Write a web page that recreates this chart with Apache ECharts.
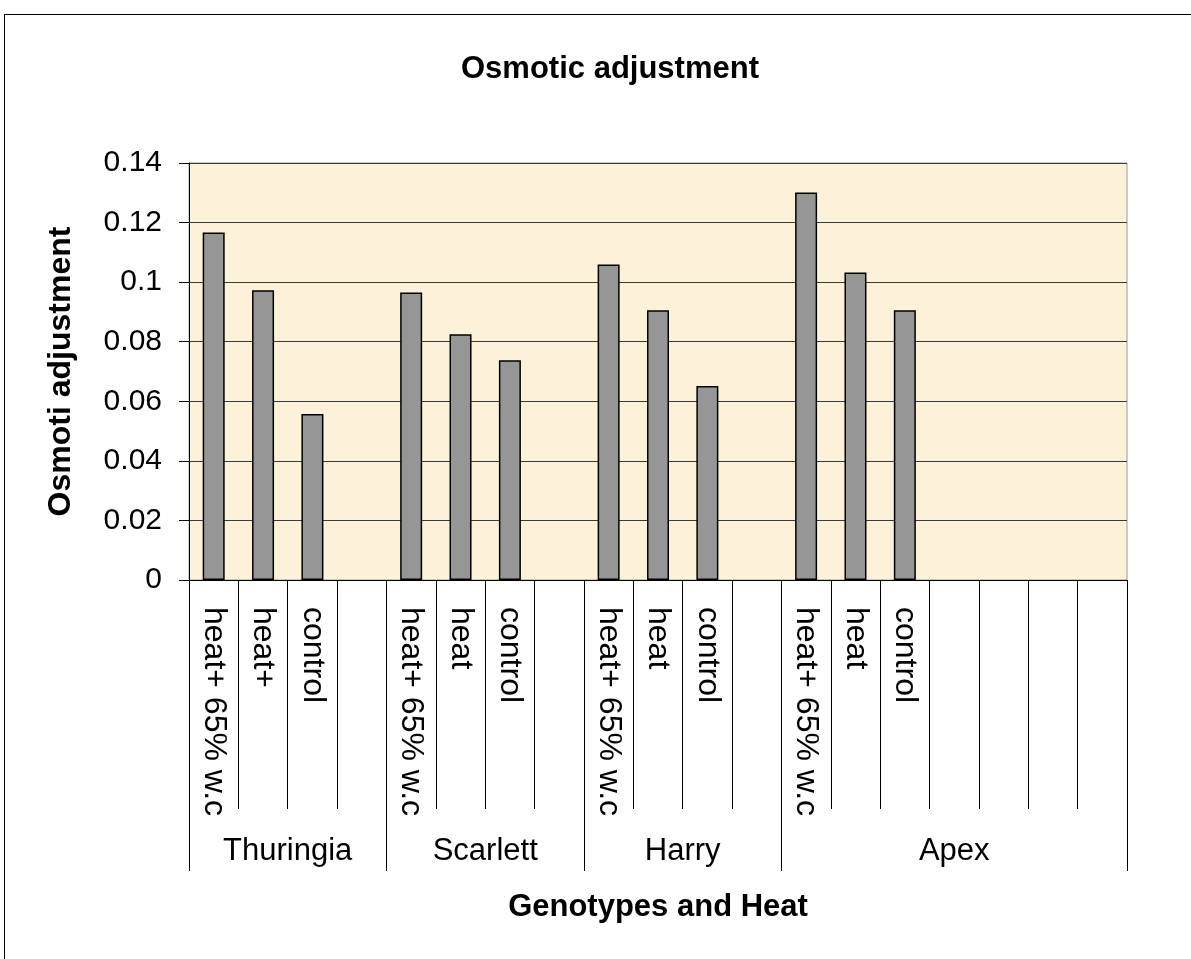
<!DOCTYPE html>
<html>
<head>
<meta charset="utf-8">
<script src="https://cdn.jsdelivr.net/npm/echarts@6/dist/echarts.min.js"></script>
<style>
  html, body { margin: 0; padding: 0; background: #fff; }
  #frame { position: absolute; left: 4px; top: 14px; width: 1187px; height: 945px;
           border-top: 1px solid #000; border-left: 1px solid #000; box-sizing: border-box; }
  #chart { position: absolute; left: 0; top: 0; width: 1191px; height: 959px; }
</style>
</head>
<body>
<div id="frame"></div>
<div id="chart"></div>
<script>
// ---- data ----
const categories = ['heat+ 65% w.c', 'heat+', 'control', '',
                    'heat+ 65% w.c', 'heat', 'control', '',
                    'heat+ 65% w.c', 'heat', 'control', '',
                    'heat+ 65% w.c', 'heat', 'control', '', '', '', ''];
const groups = ['Thuringia', 'Scarlett', 'Harry', 'Apex'];
const groupSizes = [4, 4, 4, 7];
const values = [0.1167, 0.0973, 0.0557, null,
                0.0965, 0.0825, 0.0738, null,
                0.1059, 0.0906, 0.0651, null,
                0.1301, 0.1032, 0.0906, null, null, null, null];
const yMin = 0, yMax = 0.14, yStep = 0.02;
const titleText = 'Osmotic adjustment';
const xTitle = 'Genotypes and Heat';
const yTitle = 'Osmoti adjustment';

// ---- derived axis helpers ----
const catIds = categories.map((c, i) => 'c' + i);
const halfCount = categories.length * 2 + 1;
const groupAxisIds = [];
const groupLabelAt = {};
const groupBoundary = new Set();
for (let i = 0; i < halfCount; i++) groupAxisIds.push('g' + i);
let start = 0;
groups.forEach((g, k) => {
  groupBoundary.add(start * 2);
  groupLabelAt[start * 2 + groupSizes[k]] = g;
  start += groupSizes[k];
});
groupBoundary.add(start * 2);

const FONT = '"Liberation Sans", Arial, sans-serif';
const chart = echarts.init(document.getElementById('chart'), null, { renderer: 'canvas' });
chart.setOption({
  animation: false,
  backgroundColor: 'transparent',
  title: {
    text: titleText,
    left: 605, top: 49, textAlign: 'center',
    textStyle: { fontFamily: FONT, fontSize: 31, fontWeight: 'bold', color: '#000' }
  },
  grid: {
    left: 189, right: 64, top: 163, bottom: 379,
    show: true, backgroundColor: '#FCF2D9', borderColor: '#9a9a9a', borderWidth: 1
  },
  xAxis: [
    {
      type: 'category', data: catIds, boundaryGap: true, position: 'bottom',
      axisLine: { show: true, lineStyle: { color: '#000', width: 1 } },
      axisTick: { show: true, length: 229, lineStyle: { color: '#000', width: 1 } },
      axisLabel: {
        interval: 0, rotate: -90, margin: 27,
        fontFamily: FONT, fontSize: 32, color: '#000',
        formatter: (v, i) => categories[i]
      },
      splitLine: { show: false }
    },
    {
      type: 'category', data: groupAxisIds, boundaryGap: false, position: 'bottom',
      axisLine: { show: false },
      axisTick: { show: true, length: 291, interval: (i) => groupBoundary.has(i),
                  lineStyle: { color: '#000', width: 1 } },
      axisLabel: {
        interval: 0, margin: 256,
        fontFamily: FONT, fontSize: 31, color: '#000',
        formatter: (v, i) => groupLabelAt[i] || ''
      },
      name: xTitle, nameLocation: 'middle', nameGap: 312,
      nameTextStyle: { fontFamily: FONT, fontSize: 31, fontWeight: 'bold', color: '#000' },
      splitLine: { show: false }
    }
  ],
  yAxis: {
    type: 'value', min: yMin, max: yMax, interval: yStep,
    axisLine: { show: true, lineStyle: { color: '#000', width: 1 } },
    axisTick: { show: true, length: 10, lineStyle: { color: '#000' } },
    axisLabel: {
      margin: 27, fontFamily: FONT, fontSize: 30, color: '#000',
      formatter: (v) => String(+v.toFixed(2))
    },
    splitLine: { show: true, lineStyle: { color: '#3a3a3a', width: 1 } },
    name: yTitle, nameLocation: 'middle', nameGap: 112, nameRotate: 90,
    nameTextStyle: { fontFamily: FONT, fontSize: 32, fontWeight: 'bold', color: '#000' }
  },
  series: [{
    type: 'bar', xAxisIndex: 0, yAxisIndex: 0,
    data: values.map(v => v === null ? '-' : v),
    barWidth: 22,
    itemStyle: { color: '#969696', borderColor: '#000', borderWidth: 1.5 }
  }]
});
</script>
</body>
</html>
